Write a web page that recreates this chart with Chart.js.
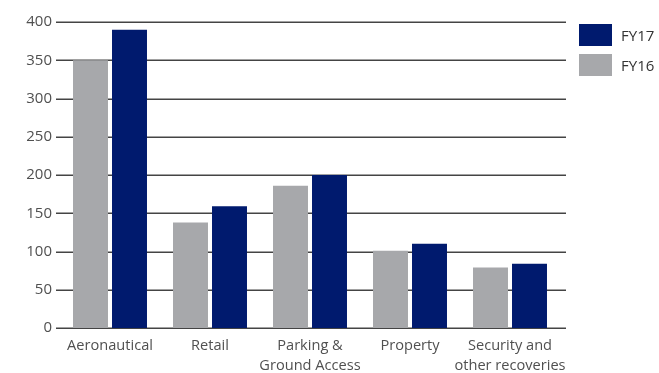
<!DOCTYPE html>
<html>
<head>
<meta charset="utf-8">
<script src="https://cdn.jsdelivr.net/npm/chart.js@4/dist/chart.umd.min.js"></script>
<style>
  html, body { margin: 0; padding: 0; background: #ffffff; }
  #wrap { position: relative; width: 659px; height: 373px; overflow: hidden; }
  canvas { position: absolute; left: 0; top: 0; }
  .leg { position: absolute; left: 579px; font-family: "Open Sans", sans-serif; font-size: 15px; color: #333; }
  .leg .box { position: absolute; left: 0; width: 33px; height: 22px; }
  .leg .txt { position: absolute; left: 42px; top: 0; line-height: 22px; white-space: nowrap; }
</style>
</head>
<body>
<div id="wrap">
  <canvas id="c" width="659" height="373"></canvas>
  <div class="leg" style="top:24px"><div class="box" style="background:#001a6e"></div><div class="txt">FY17</div></div>
  <div class="leg" style="top:54px"><div class="box" style="background:#a7a8ab"></div><div class="txt">FY16</div></div>
</div>
<script>
const categories = ["Aeronautical", "Retail", ["Parking &", "Ground Access"], "Property", ["Security and", "other recoveries"]];
const fy16 = [350, 138, 186, 101, 79];
const fy17 = [390, 159, 200, 110, 84];
const yTicks = [0, 50, 100, 150, 200, 250, 300, 350, 400];

const gridPlugin = {
  id: 'extGrid',
  beforeDatasetsDraw(chart) {
    const ctx = chart.ctx;
    const y = chart.scales.y;
    const area = chart.chartArea;
    ctx.save();
    ctx.strokeStyle = '#444444';
    ctx.lineWidth = 1.5;
    yTicks.forEach(v => {
      const py = Math.round(y.getPixelForValue(v)) + 0.25;
      ctx.beginPath();
      ctx.moveTo(area.left - 4, py);
      ctx.lineTo(area.right + 6, py);
      ctx.stroke();
    });
    ctx.restore();
  }
};

new Chart(document.getElementById('c'), {
  type: 'bar',
  data: {
    labels: categories,
    datasets: [
      { label: 'FY16', data: fy16, backgroundColor: '#a7a8ab', categoryPercentage: 0.78, barPercentage: 0.897 },
      { label: 'FY17', data: fy17, backgroundColor: '#001a6e', categoryPercentage: 0.78, barPercentage: 0.897 }
    ]
  },
  options: {
    responsive: false,
    animation: false,
    layout: { padding: { left: 0, right: 99, top: 22, bottom: 0 } },
    plugins: { legend: { display: false }, tooltip: { enabled: false } },
    scales: {
      x: {
        grid: { display: false, drawTicks: false },
        border: { display: false },
        ticks: { color: '#505050', font: { family: 'Open Sans', size: 14.6, lineHeight: 1.37 }, padding: 8, maxRotation: 0, autoSkip: false },
        afterFit(s) { s.height = 45; }
      },
      y: {
        min: 0, max: 400,
        grid: { display: false, drawTicks: false },
        border: { display: false },
        afterBuildTicks(s) { s.ticks = yTicks.map(v => ({ value: v })); },
        ticks: { color: '#505050', font: { family: 'Open Sans', size: 15 }, padding: 8 },
        afterFit(s) { s.width = 60; }
      }
    }
  },
  plugins: [gridPlugin]
});
</script>
</body>
</html>
